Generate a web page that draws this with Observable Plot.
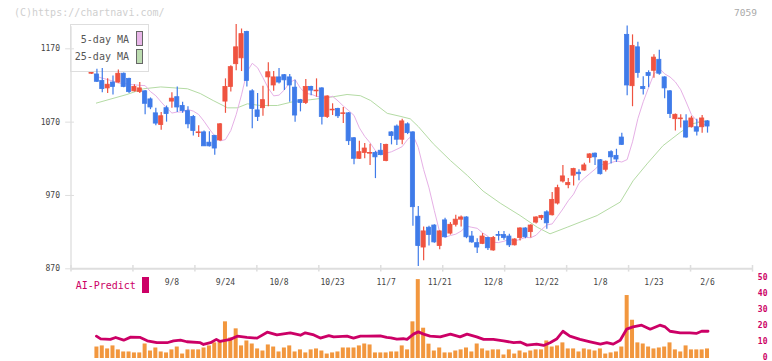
<!DOCTYPE html>
<html><head><meta charset="utf-8">
<script src="https://cdn.jsdelivr.net/npm/d3@7"></script>
<script src="https://cdn.jsdelivr.net/npm/@observablehq/plot@0.6"></script>
<style>
body{margin:0;background:#fff;}
#wrap{position:relative;width:772px;height:361px;overflow:hidden;font-family:"DejaVu Sans Mono","Liberation Mono",monospace;}
#wrap svg{position:absolute;left:0;top:0;}
.t{position:absolute;white-space:nowrap;line-height:10px;font-size:10px;}
#legend{position:absolute;left:70px;top:24px;width:79px;height:48px;box-sizing:border-box;border:1px solid #dedede;background:#fff;}
.sw{position:absolute;box-sizing:border-box;}
</style></head>
<body><div id="wrap">
<div class="t" style="left:14px;top:7.5px;color:#cfcfcf;">(C)https://chartnavi.com/</div>
<div class="t" style="right:15px;top:7.5px;color:#aaa;font-size:9.5px;">7059</div>
<div id="legend"></div>
<div class="t" style="right:643px;top:35px;color:#555;">5-day MA</div>
<div class="sw" style="left:136px;top:31px;width:7px;height:15px;border:1px solid #666;background:#e8b6e8;"></div>
<div class="t" style="right:643px;top:52px;color:#555;">25-day MA</div>
<div class="sw" style="left:136px;top:48.5px;width:7px;height:15px;border:1px solid #666;background:#bcdcb0;"></div>
<div class="t" style="left:75.7px;top:281px;color:#cc0066;">AI-Predict</div>
<div class="sw" style="left:142.3px;top:277.3px;width:7px;height:15.4px;background:#cc0066;"></div>
</div>
<script>
// candle index of the first candle (0 = 9/8)
const firstIndex = -15;
const opens = [
1136,1135,1126,1116,1124,1124,1136,1129,1112,1111,
1112,1101,1082,1066,1089,1098,1104,1092,1085,1077,
1055,1056,1042,1051,1045,1098,1118,1149,1157,1193,
1112,1086,1089,1131,1120,1131,1134,1131,1117,1100,
1096,1118,1112,1116,1077,1086,1088,1081,1082,1048,
1020,1028,1027,1028,1031,1017,1056,1064,1046,1067,
1056,941,899,926,929,901,936,918,930,937,
940,914,905,904,912,895,916,916,914,902,
912,925,920,933,939,947,943,959,989,984,
997,1001,1004,1021,1027,1018,1005,1029,1024,1049,
1189,1119,1172,1118,1137,1140,1155,1131,1112,1074,
1074,1071,1063,1063,1063,1071];
const highs = [
1137,1142,1143,1129,1133,1141,1137,1130,1121,1124,
1113,1103,1089,1083,1092,1110,1118,1097,1091,1079,
1065,1058,1057,1052,1068,1129,1147,1203,1197,1194,
1114,1109,1119,1151,1139,1143,1135,1135,1127,1101,
1128,1119,1129,1117,1106,1095,1089,1090,1083,1049,
1044,1041,1040,1030,1041,1040,1057,1066,1074,1069,
1057,955,927,928,930,922,939,933,943,942,
941,921,911,918,913,914,921,921,917,911,
926,926,930,941,943,949,974,984,1011,993,
1007,1005,1014,1027,1028,1019,1017,1031,1033,1055,
1201,1189,1179,1132,1140,1162,1168,1132,1113,1081,
1080,1080,1078,1074,1079,1072];
const lows = [
1135,1124,1110,1109,1107,1123,1117,1109,1111,1109,
1080,1087,1065,1059,1070,1089,1083,1082,1061,1051,
1049,1037,1036,1025,1044,1082,1111,1140,1139,1118,
1061,1071,1078,1091,1112,1122,1113,1097,1070,1084,
1094,1106,1104,1066,1075,1079,1075,1068,1038,1012,
1019,1020,1011,993,1024,1016,1039,1038,1039,1053,
928,873,881,901,905,896,912,916,927,927,
911,905,891,903,895,894,908,909,899,901,
908,911,912,931,936,924,942,957,987,979,
983,990,1003,1014,1011,998,1002,1013,1015,1038,
1106,1091,1130,1107,1117,1130,1134,1102,1075,1058,
1062,1048,1062,1051,1055,1055];
const closes = [
1137,1125,1115,1121,1118,1136,1118,1111,1118,1116,
1095,1090,1068,1078,1081,1102,1090,1085,1067,1058,
1056,1037,1037,1034,1067,1118,1145,1172,1190,1126,
1088,1077,1100,1138,1131,1124,1127,1120,1079,1096,
1118,1113,1113,1077,1105,1087,1078,1082,1044,1020,
1029,1034,1028,1022,1025,1039,1051,1046,1071,1055,
954,901,921,916,906,921,913,930,937,940,
913,906,899,914,898,912,915,912,902,910,
925,913,929,940,942,932,964,980,996,987,
1006,999,1011,1026,1022,999,1016,1022,1019,1039,
1120,1174,1137,1115,1133,1158,1136,1116,1081,1080,
1075,1049,1075,1057,1075,1064];
// 5-day moving average as drawn (pink line), one value per candle
const ma5 = [
null,1132,1130,1128,1126,1123.2,1123,1121.6,1120.8,1120.2,
1119.8,1111.6,1106,1097.4,1089.4,1082.4,1083.8,1083.8,1087.2,1085,
1080.4,1071.2,1060.6,1051,1044.4,1046.2,1058.6,1080.2,1107.2,1138.4,
1150.2,1144.2,1130.6,1116.2,1105.8,1106.8,1114,1124,1128,1116.2,
1109.2,1108,1105.2,1103.8,1103.4,1105.2,1099,1092,1085.8,1079.2,
1062.2,1050.6,1041.8,1031,1026.6,1027.6,1029.6,1033,1036.6,1046.4,
1052.4,1035.4,1005.4,980.4,949.4,919.6,913,915.4,917.2,921.4,
928.2,926.6,925.2,919,914.4,906,905.8,907.6,910.2,907.8,
910.2,912.8,912.4,915.8,923.4,929.8,931.2,941.4,951.6,962.8,
971.8,986.6,993.6,999.8,1005.8,1012.8,1011.4,1014.8,1017,1015.6,
1019,1043.2,1074.8,1097.8,1117,1135.8,1143.4,1135.8,1131.6,1124.8,
1114.2,1097.6,1080.2,1072,1067.2,1066.2];
// volume (right axis units), one per candle
const volumes = [
null,7.2,7.9,6.0,7.9,5.4,4.1,4.1,3.5,3.5,
9.1,4.7,6.6,4.1,3.5,5.4,7.2,2.8,5.4,5.4,
5.4,6.6,7.9,9.8,11.0,23.0,12.9,18.6,7.9,11.0,
9.1,6.0,4.7,8.5,7.2,4.1,6.6,7.9,4.1,5.4,
3.5,5.4,6.0,4.7,2.8,3.5,4.1,6.6,6.6,6.6,
7.9,9.1,8.5,3.5,3.5,3.5,4.1,4.1,7.9,5.4,
23.0,49.5,19.0,9.0,4.7,6.6,3.5,3.5,4.7,5.4,
6.6,4.1,9.1,6.0,4.7,5.4,5.4,2.2,5.4,2.8,
4.7,3.5,4.7,5.4,5.4,11.0,7.2,7.9,9.8,6.0,
6.0,4.1,6.0,5.4,4.7,6.0,2.8,3.5,4.1,7.2,
39.5,24.0,9.8,9.1,7.2,6.0,6.6,7.2,9.8,5.4,
4.1,7.9,5.4,5.4,5.4,6.0];
// 25-day moving average, read at points along the green line (candle index, price)
const ma25At = [-14.1,-8.4,-5.3,-2.1,2.9,5.3,7.7,10.4,12.2,14.1,16.5,19.7,22.7,25.8,29.6,32.7,35.2,37.1,40.2,42.6,44.5,46,48.8,52,55.2,58.1,61.3,65,68.2,70.6,73.8,79.4,83.7,86.1,88.7,91.7,94.9,97.3,100];
const ma25Val = [1096,1107.7,1115.5,1118,1115.5,1109,1099.5,1089.5,1089.5,1095,1092.7,1092.7,1098,1100.5,1104,1107.7,1106,1099.5,1082,1078,1074.5,1064,1040.5,1017.7,997,976,959.5,942.7,926.7,917.7,926.7,942.7,961,990,1013,1038,1056,1068,1072];
// AI-Predict line, read at points (candle index, value)
const aiAt = [-14.1,-13.3,-11.5,-10.5,-9,-7.7,-5.9,-4.6,-2.8,-0.9,0.3,1.6,2.8,5.3,5.9,7.2,8.3,9,10.9,12.2,14,15.9,17.8,19.6,22.1,24,24.9,26.5,27.7,29.3,30.2,32.7,33.9,35.2,36.4,38.9,40.1,40.9,42,43.2,43.9,45.1,46,47,48.2,50.1,52,53.8,55.1,56.9,58.2,60,61.9,63.8,65,66.3,68.1,69.4,70.6,71.9,73,74.3,76.2,78.1,80,81.2,82.4,83.7,84.9,86.1,87.7,89.3,91.1,92.1,93,94.9,96.7,97.9,98.9,100.1];
const aiVal = [14.0,12.3,12.0,13.2,11.5,13.4,13.2,11.1,9.9,9.9,11.1,11.5,10.5,9.9,8.8,9.9,12.0,10.7,12.0,14.0,13.2,12.8,16.5,14.8,16.1,14.6,16.1,14.8,12.8,14.4,13.6,14.0,12.8,14.0,14.0,14.2,13.2,13.0,12.2,12.4,12.0,15.3,16.7,15.3,14.0,13.6,15.3,13.6,15.3,13.6,12.0,12.0,11.1,9.9,10.3,8.4,9.0,8.2,9.9,12.4,17.1,14.0,12.0,10.5,9.0,9.9,9.0,11.5,18.4,19.8,20.9,18.4,20.9,19.8,17.1,16.1,16.1,15.7,17.1,17.1];
// axis labels
const dateLabels = ["9/8","9/24","10/8","10/23","11/7","11/21","12/8","12/22","1/8","1/23","2/6"];
const dateLabelAt = [0,10,20,30,40,50,60,70,80,90,100];
const priceTicks = [870,970,1070,1170];
const volTicks = [0,10,20,30,40,50];

const RED = "#ef5340", BLUE = "#3f7be9";
const xDomain = [-18.84, 108.4];
const gridTicks = d3.range(12).map(k => xDomain[0] + k * (xDomain[1] - xDomain[0]) / 11);
const candles = opens.map((o, k) => ({i: k + firstIndex, o, h: highs[k], l: lows[k], c: closes[k], ma5: ma5[k], v: volumes[k]}));
const col = d => (d.c >= d.o ? RED : BLUE);
const ma25 = ma25At.map((at, k) => ({at, val: ma25Val[k]}));
const ai = aiAt.map((at, k) => ({at, val: aiVal[k]}));
const font = "'DejaVu Sans Mono','Liberation Mono',monospace";
const AX = "#dedede";

const main = Plot.plot({
  width: 772, height: 361,
  marginLeft: 70.5, marginRight: 20, marginTop: 26.3, marginBottom: 92.7,
  x: {domain: xDomain, axis: null},
  y: {domain: [870, 1200], axis: null},
  color: {type: "identity"},
  style: {background: "none", fontFamily: font, overflow: "visible"},
  marks: [
    Plot.ruleX([xDomain[0]], {stroke: AX, strokeWidth: 1.3}),
    Plot.ruleY([870], {stroke: AX, strokeWidth: 2}),
    Plot.ruleX(gridTicks, {x: d => d, y1: 865.5, y2: 874.5, stroke: AX, strokeWidth: 1.5}),
    Plot.ruleY(priceTicks, {y: d => d, x1: xDomain[0] - 1, x2: xDomain[0] + 0.65, stroke: AX}),
    Plot.text(priceTicks, {x: xDomain[0], y: d => d, text: d => String(d), textAnchor: "end", dx: -11, fontSize: 8, fill: "#444"}),
    Plot.text(dateLabelAt, {x: d => d, y: 870, text: (d, k) => dateLabels[k], dy: 14, fontSize: 8, fill: "#444"}),
    Plot.line(ma25, {x: "at", y: "val", stroke: "#b4dba4", strokeWidth: 1}),
    Plot.line(candles.filter(d => d.ma5 != null), {x: "i", y: "ma5", stroke: "#e6b0e6", strokeWidth: 1}),
    Plot.ruleX(candles, {x: "i", y1: "l", y2: "h", stroke: col, strokeWidth: 1.2}),
    Plot.rect(candles, {x1: d => d.i - 0.5, x2: d => d.i + 0.5, y1: d => Math.min(d.o, d.c), y2: d => Math.max(d.o, d.c), fill: col, stroke: col, strokeWidth: 0.8, insetLeft: 0.6, insetRight: 0.6})
  ]
});

const vol = Plot.plot({
  width: 772, height: 361,
  marginLeft: 70.5, marginRight: 20, marginTop: 278.3, marginBottom: 3,
  x: {domain: xDomain, axis: null},
  y: {domain: [0, 50], axis: null},
  style: {background: "none", fontFamily: font, overflow: "visible"},
  marks: [
    Plot.rect(candles.filter(d => d.v != null), {x1: d => d.i - 0.5, x2: d => d.i + 0.5, y1: 0, y2: "v", fill: "#f2973e", insetLeft: 0.68, insetRight: 0.68}),
    Plot.line(ai, {x: "at", y: "val", stroke: "#cc0066", strokeWidth: 2.8}),
    Plot.text(volTicks, {x: xDomain[1], y: d => d, text: d => String(d), textAnchor: "end", dx: 15, dy: -1.5, fontSize: 8, fontWeight: "bold", fill: "#cc0066"})
  ]
});

const wrap = document.getElementById("wrap");
wrap.appendChild(main);
wrap.appendChild(vol);
</script>
</body></html>
